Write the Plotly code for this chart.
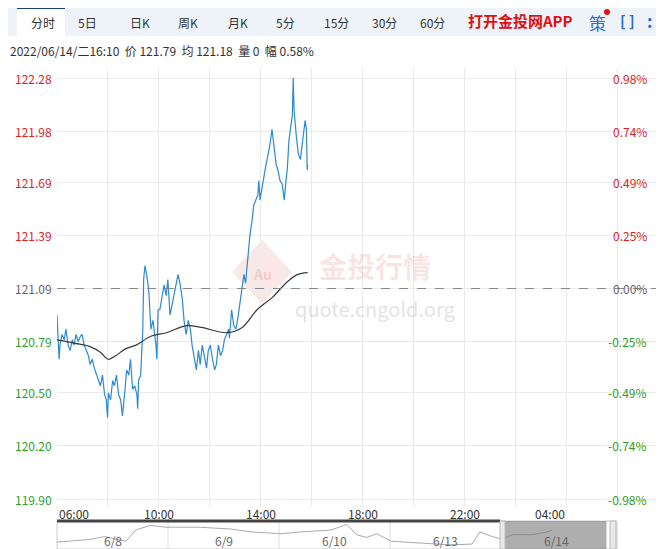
import datetime as dt

import plotly.graph_objects as go

# minute data, minutes since 06:00 on 6/14
price_minutes = [0, 2, 5, 7, 12, 17, 21, 26, 31, 36, 40, 45, 50, 55, 59, 64, 69, 74, 78, 83,
                 88, 93, 97, 102, 107, 112, 116, 119, 121, 126, 131, 135, 140, 145, 150, 154,
                 159, 164, 169, 173, 178, 183, 188, 190, 192, 197, 202, 204, 207, 211, 216,
                 221, 226, 230, 233, 235, 238, 242, 247, 252, 257, 261, 266, 271, 276, 280,
                 285, 290, 295, 299, 304, 309, 314, 318, 323, 328, 333, 337, 342, 347, 352,
                 356, 361, 366, 371, 375, 380, 385, 390, 394, 399, 404, 406, 411, 416, 421,
                 425, 430, 435, 440, 444, 449, 454, 459, 463, 468, 473, 475, 478, 482, 487,
                 492, 497, 501, 506, 511, 516, 520, 525, 530, 535, 539, 542, 546, 549, 554,
                 556, 558, 563, 568, 573, 577, 582, 584, 587, 588, 589, 590]
price_values = [120.94, 120.80, 120.69, 120.77, 120.83, 120.80, 120.86, 120.77, 120.74, 120.80,
                120.77, 120.83, 120.79, 120.82, 120.83, 120.77, 120.74, 120.71, 120.66, 120.69,
                120.64, 120.60, 120.57, 120.54, 120.60, 120.49, 120.46, 120.36, 120.50, 120.46,
                120.57, 120.54, 120.60, 120.49, 120.46, 120.37, 120.49, 120.63, 120.60, 120.69,
                120.52, 120.54, 120.49, 120.41, 120.57, 120.60, 120.86, 121.14, 121.22, 121.17,
                121.08, 120.86, 120.91, 120.83, 120.77, 120.69, 120.97, 120.97, 121.03, 121.11,
                121.05, 121.14, 120.94, 121.00, 121.08, 121.11, 121.17, 121.11, 121.03, 120.91,
                120.83, 120.91, 120.86, 120.77, 120.71, 120.63, 120.74, 120.66, 120.77, 120.71,
                120.64, 120.74, 120.77, 120.69, 120.63, 120.66, 120.77, 120.71, 120.74, 120.80,
                120.83, 120.86, 120.81, 120.97, 120.88, 120.86, 120.91, 121.00, 121.08, 121.17,
                121.12, 121.25, 121.39, 121.47, 121.56, 121.59, 121.62, 121.70, 121.59, 121.65,
                121.73, 121.79, 121.85, 121.90, 121.99, 121.87, 121.79, 121.76, 121.70, 121.68,
                121.59, 121.70, 121.76, 121.93, 121.99, 122.07, 122.28, 122.10, 121.96, 121.85,
                121.82, 121.90, 122.01, 122.04, 121.99, 121.87, 121.76, 121.79]

avg_minutes = [0, 43, 79, 102, 121, 138, 162, 186, 221, 257, 305, 340, 400, 436, 471, 507, 543, 567, 590]
avg_values = [120.80, 120.78, 120.76, 120.73, 120.69, 120.71, 120.75, 120.77, 120.82, 120.84,
              120.88, 120.87, 120.84, 120.87, 120.97, 121.04, 121.13, 121.17, 121.18]

price_ticks = [122.28, 121.98, 121.69, 121.39, 121.09, 120.79, 120.50, 120.20, 119.90]
pct_ticks = ["0.98%", "0.74%", "0.49%", "0.25%", "0.00%", "-0.25%", "-0.49%", "-0.74%", "-0.98%"]
prev_close = 121.09

time_ticks = ["06:00", "10:00", "14:00", "18:00", "22:00", "04:00"]

# 5-day navigator (day index, price)
nav_days = [0, 0.30, 0.43, 0.62, 0.71, 0.84, 0.98, 1.29, 1.57, 1.75, 2.02, 2.20, 2.47, 2.61,
            2.70, 2.79, 2.88, 3.01, 3.28, 3.56, 3.74, 3.81, 3.92, 4.01, 4.10, 4.28, 4.42, 4.46]
nav_values = [120.74, 120.92, 121.10, 120.80, 121.52, 121.82, 121.70, 121.70, 121.58, 121.40,
              121.28, 121.40, 121.52, 121.88, 121.22, 121.04, 121.28, 120.80, 120.68, 120.56,
              120.62, 121.40, 121.10, 120.92, 121.22, 121.22, 121.40, 121.52]
nav_labels = ["6/8", "6/9", "6/10", "6/13", "6/14"]

tabs = ["分时", "5日", "日K", "周K", "月K", "5分", "15分", "30分", "60分"]
tab_x = [43, 87, 140, 188, 238, 285, 336, 384, 432]

# positions below are in page pixels; the page has an 8px body margin
OFF = 8
W, H = 664, 549
L, R, T = 57, 656, 68
FONT = "Noto Sans CJK SC"
start = dt.datetime(2022, 6, 14, 6, 0)


def px(x):
    return (x - L) / (R - L)


def py(y):
    return (H - y) / (H - T)


def tm(m):
    return start + dt.timedelta(minutes=m)


def note(x, y, text, color="#333", size=12, xanchor="center", **kw):
    d = dict(x=x, y=y, text=text, showarrow=False, xanchor=xanchor, yanchor="middle",
             font=dict(color=color, size=size))
    d.setdefault("xref", "paper")
    d.setdefault("yref", "paper")
    d.update(kw)
    return d


def box(x0, y0, x1, y1, fill, kind="rect", line=None):
    return dict(type=kind, xref="paper", yref="paper", x0=px(x0), x1=px(x1), y0=py(y1), y1=py(y0),
                fillcolor=fill, line=line or dict(width=0))


fig = go.Figure()
fig.add_trace(go.Scatter(x=[tm(m) for m in price_minutes], y=price_values, mode="lines",
                         line=dict(color="#2b8ad4", width=1.2), hoverinfo="skip"))
fig.add_trace(go.Scatter(x=[tm(m) for m in avg_minutes], y=avg_values, mode="lines",
                         line=dict(color="#3a3a3a", width=1.2, shape="spline"), hoverinfo="skip"))
fig.add_trace(go.Scatter(x=nav_days, y=nav_values, mode="lines", xaxis="x2", yaxis="y2",
                         line=dict(color="#aaaaaa", width=1), hoverinfo="skip"))

step = (price_ticks[0] - price_ticks[-1]) / (499 - 78)
y_top = price_ticks[0] + (78 - T) * step
y_bot = price_ticks[-1] - (507 - 499) * step

fig.update_layout(
    width=W - OFF, height=H - OFF,
    margin=dict(l=L - OFF, r=W - R, t=T - OFF, b=0, pad=0),
    paper_bgcolor="white", plot_bgcolor="white", showlegend=False,
    font=dict(family=FONT, size=12, color="#333"),
    xaxis=dict(range=[start, start + dt.timedelta(hours=23.5)], domain=[0, 1],
               dtick=2 * 3600 * 1000, tick0=start, showticklabels=False, ticks="",
               showgrid=True, gridcolor="#ebebeb", zeroline=False, showline=False),
    yaxis=dict(range=[y_bot, y_top], domain=[py(507), 1], tickvals=price_ticks,
               showticklabels=False, showgrid=True, gridcolor="#ebebeb", zeroline=False),
    xaxis2=dict(range=[0, 5], domain=[0, px(612)], anchor="y2", visible=False),
    yaxis2=dict(range=[120.3, 122.1], domain=[0, py(521)], anchor="x2", visible=False),
)

shapes = [
    dict(type="line", xref="paper", yref="y", x0=0, x1=1, y0=prev_close, y1=prev_close,
         line=dict(color="#888", width=1, dash="dash")),
    # top tab bar
    dict(box(8, 5, 664, 36, "#eef3fa"), layer="below"),
    box(17, 8, 65, 36, "white"),
    dict(type="line", xref="paper", yref="paper", x0=px(17), x1=px(65), y0=py(8), y1=py(8),
         line=dict(color="#1c3f78", width=2)),
    box(604, 9, 610, 15, "#e01010", kind="circle"),
    # navigator
    dict(box(57, 521, 617, 549, "rgba(0,0,0,0)", line=dict(color="#cccccc", width=1)),
         layer="below"),
    dict(type="line", xref="paper", yref="paper", x0=0, x1=px(500), y0=py(521), y1=py(521),
         line=dict(color="#444", width=3)),
    dict(type="rect", xref="x2", yref="paper", x0=4.0, x1=4.95, y0=0, y1=py(521),
         fillcolor="rgba(120,120,120,0.6)", line=dict(width=0)),
    box(500, 521, 505, 549, "#e8e8e8", line=dict(color="#bbb", width=1)),
    box(610, 521, 616, 549, "#e8e8e8", line=dict(color="#bbb", width=1)),
    # watermark diamond
    dict(type="path", xref="paper", yref="paper",
         path=f"M {px(262)} {py(240)} L {px(292)} {py(272)} L {px(262)} {py(304)} L {px(232)} {py(272)} Z",
         fillcolor="rgba(230,150,140,0.22)", line=dict(width=0), layer="below"),
]
for d in range(1, 5):
    shapes.append(dict(type="line", xref="x2", yref="paper", x0=d, x1=d, y0=0, y1=py(521),
                       line=dict(color="#dddddd", width=1), layer="below"))
fig.update_layout(shapes=shapes)

ann = []
for v, p in zip(price_ticks, pct_ticks):
    c = "#e02020" if v > prev_close + 1e-9 else ("#2ca02c" if v < prev_close - 1e-9 else "#666")
    ann.append(note(px(54), v, f"{v:.2f}", c, xanchor="right", yref="y"))
    ann.append(note(px(649), v, p, c, xanchor="right", yref="y"))
for i, t in enumerate(time_ticks):
    x = start + dt.timedelta(hours=4 * i)
    anchor = "left" if i == 0 else ("right" if i == len(time_ticks) - 1 else "center")
    ann.append(note(x, py(513), t, xanchor=anchor, xref="x"))
for i, lab in enumerate(nav_labels):
    ann.append(note(i + 0.5, py(540), lab, "#666", xref="x2"))
for t, x in zip(tabs, tab_x):
    ann.append(note(px(x), py(22), t))
ann += [
    note(px(520), py(21), "<b>打开金投网APP</b>", "#e01010", 15),
    note(px(597), py(22), "策", "#2b6fd0", 17),
    note(px(627), py(21), "<b>[ ]</b>", "#2b6fd0", 15),
    note(px(650), py(21), "<b>:</b>", "#2b6fd0", 17),
    note(px(8), py(50), "2022/06/14/二16:10  价 121.79  均 121.18  量 0  幅 0.58%",
         xanchor="left"),
    # watermark
    note(px(262), py(274), "<b>Au</b>", "rgba(230,150,140,0.35)", 14),
    note(px(375), py(266), "<b>金投行情</b>", "rgba(230,150,140,0.25)", 28),
    note(px(375), py(308), "quote.cngold.org", "rgba(170,170,170,0.35)", 20),
]
fig.update_layout(annotations=ann)

fig.write_html("out.html")
